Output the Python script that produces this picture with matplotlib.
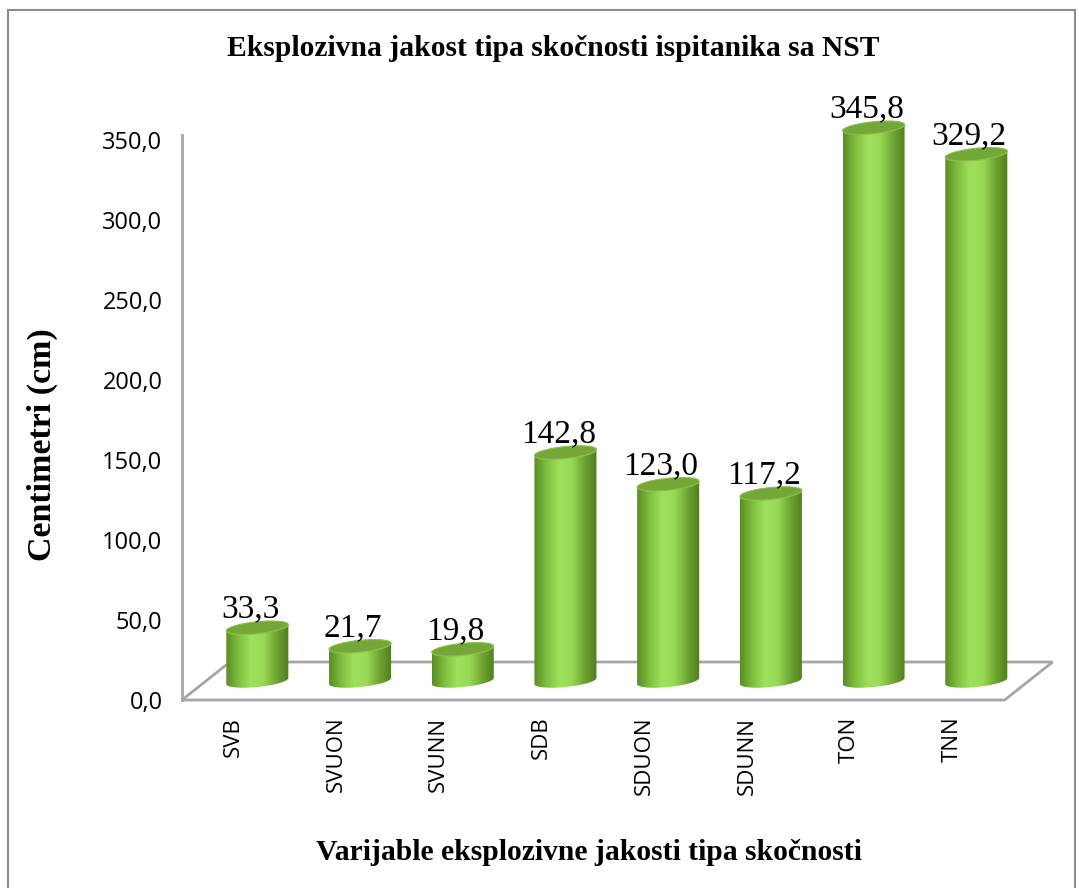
import numpy as np
import matplotlib.pyplot as plt
from matplotlib.patches import Polygon, Rectangle
from matplotlib.colors import LinearSegmentedColormap

# chart data
categories = ['SVB', 'SVUON', 'SVUNN', 'SDB', 'SDUON', 'SDUNN', 'TON', 'TNN']
values = [33.3, 21.7, 19.8, 142.8, 123.0, 117.2, 345.8, 329.2]
y_ticks = [0, 50, 100, 150, 200, 250, 300, 350]

title = 'Eksplozivna jakost tipa skočnosti ispitanika sa NST'
x_label = 'Varijable eksplozivne jakosti tipa skočnosti'
y_label = 'Centimetri (cm)'

W, H = 1079, 888
fig = plt.figure(figsize=(W / 100, H / 100), dpi=100)
ax = fig.add_axes([182 / W, (H - 700) / H, (1055 - 182) / W, 600 / H])
ax.set_xlim(-0.5, 8.0)
ax.set_ylim(0, 375)
for s in ax.spines.values():
    s.set_visible(False)

grey = '#a6a6a6'
# fake 3d depth of the floor
dx, dy = 0.467, 23.75
x_right = 7.51

ax.plot([-0.5, -0.5], [0, 353], color=grey, lw=2, clip_on=False, zorder=1)
floor = Polygon([(-0.5, 0), (x_right, 0), (x_right + dx, dy), (-0.5 + dx, dy)],
                closed=True, fill=False, edgecolor=grey, lw=2, zorder=1, clip_on=False)
ax.add_patch(floor)

# cylinder shading
body_cmap = LinearSegmentedColormap.from_list(
    'body', ['#5a8c25', '#7fbf3f', '#9fe05c', '#98d955', '#6fa532', '#4f7d1f'])
grad = np.linspace(0, 1, 256).reshape(1, -1)

a = 0.302      # radius in x units
b = 3.75       # half height of the ellipse
shear = 1.9    # tilt of the ellipse
t = np.linspace(0, 2 * np.pi, 120)

for i, v in enumerate(values):
    cx = i + dx / 2
    base = dy / 2
    top = base + v
    tb = np.linspace(np.pi, 2 * np.pi, 60)
    tt = np.linspace(0, np.pi, 60)
    bx = cx + a * np.cos(tb)
    by = base + b * np.sin(tb) + shear * np.cos(tb)
    ux = cx + a * np.cos(tt)
    uy = top + b * np.sin(tt) + shear * np.cos(tt)
    body = Polygon(np.column_stack([np.r_[bx, ux], np.r_[by, uy]]), closed=True,
                   facecolor='none', edgecolor='none', zorder=3)
    ax.add_patch(body)
    im = ax.imshow(grad, cmap=body_cmap, aspect='auto', zorder=3,
                   extent=[cx - a, cx + a, base - b - shear, top + b + shear])
    im.set_clip_path(body)

    ex = cx + a * np.cos(t)
    ey = top + b * np.sin(t) + shear * np.cos(t)
    cap = Polygon(np.column_stack([ex, ey]), closed=True, facecolor='#74a738',
                  edgecolor='#8cc24c', lw=0.8, zorder=4)
    ax.add_patch(cap)

    ax.text(cx - 0.07, top + 6.5, f'{v:.1f}'.replace('.', ','), ha='center',
            va='baseline', fontsize=24, family='Liberation Serif', zorder=5)

ax.set_xlim(-0.5, 8.0)
ax.set_ylim(0, 375)

ax.set_yticks(y_ticks)
ax.set_yticklabels([f'{y:.1f}'.replace('.', ',') for y in y_ticks],
                   family='Open Sans', fontsize=17)
ax.set_xticks(range(len(categories)))
ax.set_xticklabels(categories, rotation=90, family='Open Sans', fontsize=16)
ax.tick_params(axis='y', length=0, pad=14)
ax.tick_params(axis='x', length=0, pad=12)

fig.text(553 / W, 1 - 48 / H, title, ha='center', va='center',
         family='Liberation Serif', fontweight='bold', fontsize=21.3)
fig.text(42 / W, 1 - 445 / H, y_label, ha='center', va='center', rotation=90,
         family='Liberation Serif', fontweight='bold', fontsize=24.5)
fig.text(589 / W, 1 - 852 / H, x_label, ha='center', va='center',
         family='Liberation Serif', fontweight='bold', fontsize=21.3)

# outer chart border
fig.patches.append(Rectangle((8 / W, -0.01), (1075 - 8) / W, 1 - 10 / H + 0.01,
                             transform=fig.transFigure, fill=False,
                             edgecolor='#8c8c8c', lw=1.5))

fig.savefig('out.png', dpi=100)
